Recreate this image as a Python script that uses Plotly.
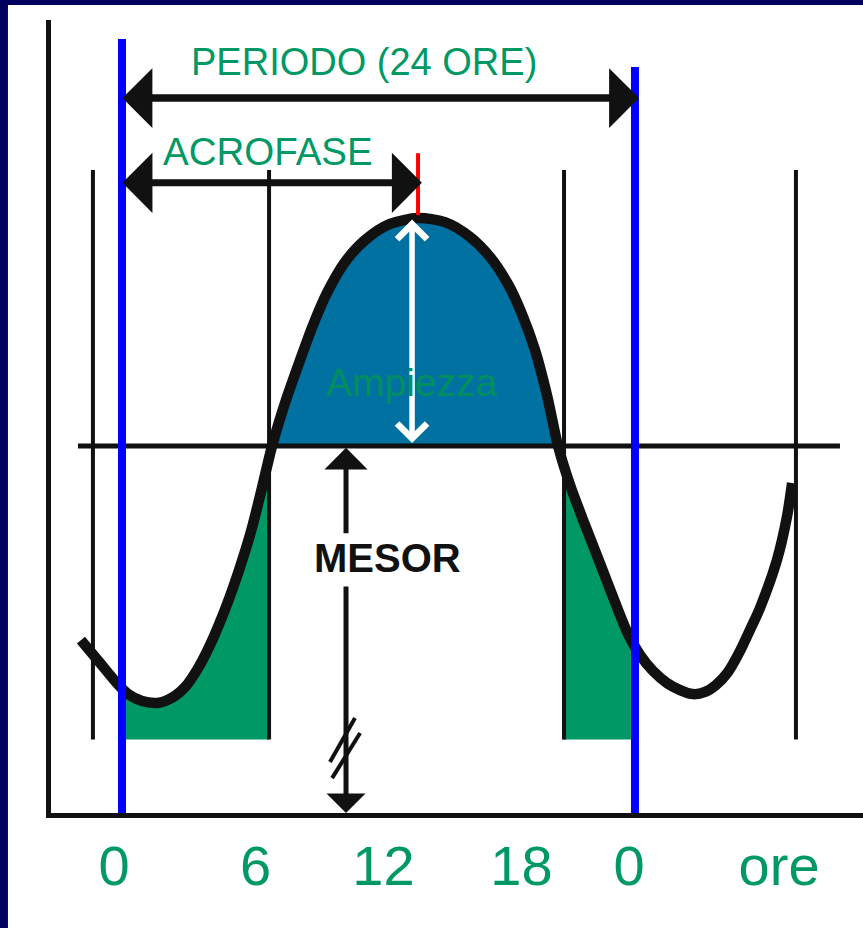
import numpy as np
import plotly.graph_objects as go

# Cosinor sketch: x in hours (0 = start of the 24 h period), y in level units (MESOR = 100)
curve_hours = [-1.92, -1.03, -0.33, 0.28, 0.94, 1.64, 2.01, 2.48, 2.95, 3.51, 4.12, 4.68, 5.19,
               5.66, 6.08, 6.55, 7.02, 7.67, 8.33, 8.94, 9.59, 10.43, 11.37, 12.54, 13.85, 15.11,
               16.28, 17.22, 18.06, 18.71, 19.32, 19.88, 20.40, 20.96, 21.66, 22.36, 23.06,
               23.67, 24.23, 24.84, 25.50, 26.11, 26.71, 27.28, 27.79, 28.35, 28.91, 29.38,
               29.85, 30.64, 31.11, 31.35]
curve_level = [47.1, 40.9, 36.0, 32.4, 30.5, 30.0, 30.5, 31.9, 34.3, 39.0, 45.8, 53.4, 61.3,
               69.5, 77.7, 88.6, 100.0, 112.5, 123.4, 133.0, 141.7, 150.1, 156.1, 160.5, 162.1, 161.0,
               157.0, 151.5, 144.1, 136.0, 126.2, 113.9, 100.0, 89.4, 78.5, 68.1, 57.5,
               48.8, 43.1, 38.7, 35.4, 33.5, 32.4, 33.0, 34.9, 38.4, 44.1, 49.9,
               55.9, 68.9, 80.7, 89.9]

mesor = 100.0
mesor_span = [-2.06, 33.59]
period_bounds = [0.0, 24.0]
period_tops = [210.9, 203.3]
acrophase = 13.85
acro_marker = [162.9, 179.8]
guide_hours = [-1.36, 6.88, 20.68, 31.53]
guide_span = [20.0, 175.2]
green_windows = [(0.0, 6.88), (20.63, 23.81)]
green_base = 20.0
tick_pos = [-0.37, 6.25, 12.23, 18.69, 23.72, 30.74]
tick_text = ["0", "6", "12", "18", "0", "ore"]

GREEN_TXT = "#009966"
BLACK = "#111111"
FONT = "Liberation Sans, Arial, sans-serif"

h = np.array(curve_hours)
v = np.array(curve_level)

fig = go.Figure()

# area of the wave above the MESOR
hump = v >= mesor
fig.add_trace(go.Scatter(x=h[hump], y=v[hump], mode="lines", fill="toself",
                         fillcolor="#0071A1", line=dict(width=0), hoverinfo="skip"))

# green windows under the wave
for a, b in green_windows:
    inside = (h > a) & (h < b)
    xs = np.concatenate([[a], h[inside], [b], [b, a]])
    ys = np.concatenate([[np.interp(a, h, v)], v[inside], [np.interp(b, h, v)],
                         [green_base, green_base]])
    fig.add_trace(go.Scatter(x=xs, y=ys, mode="lines", fill="toself",
                             fillcolor="#009864", line=dict(width=0), hoverinfo="skip"))

# thin vertical guides
gx, gy = [], []
for g in guide_hours:
    gx += [g, g, None]
    gy += [guide_span[0], guide_span[1], None]
fig.add_trace(go.Scatter(x=gx, y=gy, mode="lines", line=dict(color=BLACK, width=4),
                         hoverinfo="skip"))

# MESOR line
fig.add_trace(go.Scatter(x=mesor_span, y=[mesor, mesor], mode="lines",
                         line=dict(color=BLACK, width=5), hoverinfo="skip"))

# the rhythm itself
fig.add_trace(go.Scatter(x=h, y=v, mode="lines", line=dict(color=BLACK, width=10.5, shape="spline",
                         smoothing=0.8), hoverinfo="skip"))

# period boundaries
bx, by = [], []
for p, top in zip(period_bounds, period_tops):
    bx += [p, p, None]
    by += [0, top, None]
fig.add_trace(go.Scatter(x=bx, y=by, mode="lines", line=dict(color="#0000FF", width=8),
                         hoverinfo="skip"))

# acrophase marker
fig.add_trace(go.Scatter(x=[acrophase, acrophase], y=acro_marker, mode="lines",
                         line=dict(color="#FF0000", width=4), hoverinfo="skip"))

# axis break on the MESOR arrow
break_x = [10.90, 9.73, None, 11.14, 9.83]
break_y = [25.9, 13.9, None, 21.8, 9.5]
fig.add_trace(go.Scatter(x=break_x, y=break_y, mode="lines", line=dict(color=BLACK, width=4),
                         hoverinfo="skip"))


def arrow(x0, y0, x1, y1, width, size, head=1, color=BLACK, both=True, start_size=None):
    return dict(x=x1, y=y1, ax=x0, ay=y0, xref="x", yref="y", axref="x", ayref="y",
                text="", showarrow=True, arrowhead=head, startarrowhead=head,
                arrowside="end+start" if both else "end", arrowwidth=width,
                arrowsize=size, startarrowsize=start_size or size, arrowcolor=color,
                standoff=0, startstandoff=0)


annotations = [
    arrow(-0.05, 194.8, 24.19, 194.8, 7.5, 1.33),
    arrow(-0.05, 171.7, 14.03, 171.7, 7, 1.43),
    arrow(13.57, 162.1, 13.57, 100.8, 5.5, 1.05, head=4, color="#FFFFFF"),
    arrow(10.48, 75.8, 10.48, 99.5, 5, 1.44, both=False),
    arrow(10.48, 62.1, 10.48, 0.0, 5, 1.3, both=False),
    dict(x=11.32, y=204.6, text="PERIODO (24 ORE)", showarrow=False,
         font=dict(family=FONT, size=38, color=GREEN_TXT)),
    dict(x=6.83, y=180.2, text="ACROFASE", showarrow=False,
         font=dict(family=FONT, size=38.5, color=GREEN_TXT)),
    dict(x=13.57, y=117.2, text="Ampiezza", showarrow=False,
         font=dict(family=FONT, size=39, color="#009060")),
    dict(x=12.40, y=69.5, text="<b>MESOR</b>", showarrow=False,
         font=dict(family=FONT, size=40, color=BLACK)),
]

fig.update_layout(
    width=863, height=928,
    margin=dict(l=51, r=0, t=20, b=115),
    paper_bgcolor="#00005F",
    plot_bgcolor="#FFFFFF",
    showlegend=False,
    annotations=annotations,
    shapes=[dict(type="rect", xref="paper", yref="paper", x0=-0.053, x1=1.02,
                 y0=-0.2, y1=1.019, fillcolor="#FFFFFF", line=dict(width=0), layer="below")],
    xaxis=dict(range=[-3.3216, 34.667], showgrid=False, zeroline=False, showline=True,
               linecolor=BLACK, linewidth=5, tickmode="array", tickvals=tick_pos,
               ticktext=tick_text, ticks="", ticklabelstandoff=0,
               tickfont=dict(family=FONT, size=56, color=GREEN_TXT), fixedrange=True),
    yaxis=dict(range=[0, 216.08], showgrid=False, zeroline=False, showline=True,
               linecolor=BLACK, linewidth=5, showticklabels=False, ticks="", fixedrange=True),
)

fig.write_html("out.html", config={"displayModeBar": False})
